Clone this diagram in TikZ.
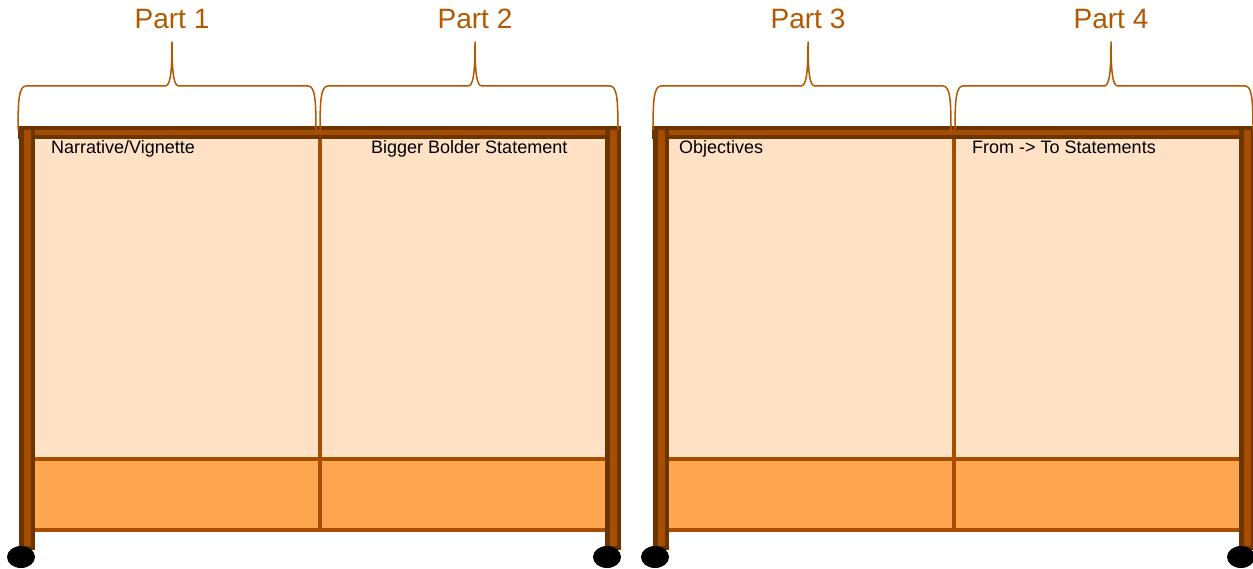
\documentclass[tikz,border=0pt]{standalone}
\usepackage{fontspec}
\setmainfont{Liberation Sans}
\definecolor{darkbr}{RGB}{107,52,0}
\definecolor{midbr}{RGB}{166,77,0}
\definecolor{peach}{RGB}{255,225,198}
\definecolor{orng}{RGB}{255,166,80}
\definecolor{bracecol}{RGB}{178,88,0}
\tikzset{
  bracestyle/.style={draw=bracecol, line width=1.5pt, line join=round},
  partlabel/.style={text=bracecol, font=\fontsize{28}{30}\selectfont, inner sep=0pt, anchor=base},
  paneltext/.style={text=black, font=\fontsize{18}{20}\selectfont, inner sep=0pt, anchor=base west},
  sepline/.style={draw=midbr, line width=4pt},
  wheel/.style={fill=black}
}
\newcommand\bracefrom[3]{%
  \draw[bracestyle] (#1,130) .. controls (#1,100) and (#1+1,86) .. (#1+8,86)
    -- (#2-7,86) .. controls (#2-2,86) and (#2,75) .. (#2,42)
    .. controls (#2,75) and (#2+2,86) .. (#2+7,86)
    -- (#3-8,86) .. controls (#3-1,86) and (#3,100) .. (#3,130);}
\newcommand\postat[1]{%
  \fill[darkbr] (#1,126) rectangle (#1+16,550);
  \fill[midbr] (#1+5,130) rectangle (#1+12,546);}
\begin{document}
\begin{tikzpicture}[x=1pt,y=-1pt]
\useasboundingbox (0,0) rectangle (1253,569);
\clip (0,0) rectangle (1253,569);
\foreach \ox in {0,634}{
  \begin{scope}[xshift=\ox]
    % top bar
    \fill[darkbr] (18,126) rectangle (621,139);
    \fill[midbr] (20,130) rectangle (619,135);
    % panels
    \fill[peach] (35,139) rectangle (605,459);
    \fill[orng] (35,459) rectangle (605,530);
    \draw[sepline] (35,459) -- (605,459);
    \draw[sepline] (35,530) -- (605,530);
    \draw[sepline] (320,139) -- (320,532);
    % posts
    \postat{19}
    \postat{605}
    % wheels
    \fill[wheel] (21,557) ellipse [x radius=14, y radius=11];
    \fill[wheel] (607,557) ellipse [x radius=14, y radius=11];
  \end{scope}
}
% braces
\bracefrom{18}{172}{316}
\bracefrom{320}{475}{618}
\bracefrom{653}{808}{951}
\bracefrom{955}{1111}{1253}
% labels
\node[partlabel] (p1) at (172,28.3) {Part 1};
\node[partlabel] (p2) at (475,28.3) {Part 2};
\node[partlabel] (p3) at (808,28.3) {Part 3};
\node[partlabel] (p4) at (1111,28.3) {Part 4};
\node[paneltext] (t1) at (51,153.5) {Narrative/Vignette};
\node[paneltext] (t2) at (371,153.5) {Bigger Bolder Statement};
\node[paneltext] (t3) at (679,153.5) {Objectives};
\node[paneltext] (t4) at (972,153.5) {From -> To Statements};
\end{tikzpicture}
\end{document}
